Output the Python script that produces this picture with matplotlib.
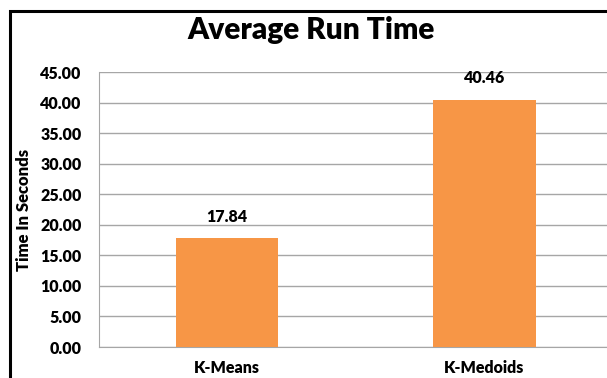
import matplotlib
matplotlib.use('Agg')
import matplotlib.pyplot as plt
from matplotlib.patches import Rectangle

# data
algos = ['K-Means', 'K-Medoids']
run_time = [17.84, 40.46]
yticks = [0, 5, 10, 15, 20, 25, 30, 35, 40, 45]

plt.rcParams['font.family'] = ['Lato', 'DejaVu Sans']
W = 'heavy'

fig = plt.figure(figsize=(6.07, 3.78), dpi=100)
ax = fig.add_axes([0.1623, 0.082, 0.847, 0.7275])

x = range(len(algos))
ax.bar(x, run_time, width=0.4, color='#F79646', zorder=3)
for i, v in zip(x, run_time):
    ax.text(i, v + 2.2, '%.2f' % v, ha='center', va='bottom', fontsize=11.5, fontweight=W)

ax.set_xlim(-0.5, 1.5)
ax.set_ylim(0, 45)
ax.set_yticks(yticks)
ax.set_yticklabels(['%.2f' % t for t in yticks], fontsize=11.5, fontweight=W)
ax.set_xticks(list(x))
ax.set_xticklabels(algos, fontsize=11.5, fontweight=W)
ax.tick_params(length=0, pad=12)
ax.tick_params(axis='x', pad=9)
ax.grid(axis='y', color='#A6A6A6', lw=1, zorder=0)
for s in ['top', 'right']:
    ax.spines[s].set_visible(False)
for s in ['left', 'bottom']:
    ax.spines[s].set_color('#A6A6A6')
ax.set_ylabel('Time In Seconds', fontsize=12, fontweight=W, labelpad=6)

fig.text(0.513, 0.92, 'Average Run Time', ha='center', va='center', fontsize=21.5, fontweight=W)

# chart border
fig.patches.append(Rectangle((10/607, -0.1), 1.2, (378-11)/378 + 0.1, transform=fig.transFigure,
                             fill=False, ec='black', lw=2.2))

fig.savefig('out.png', dpi=100)
